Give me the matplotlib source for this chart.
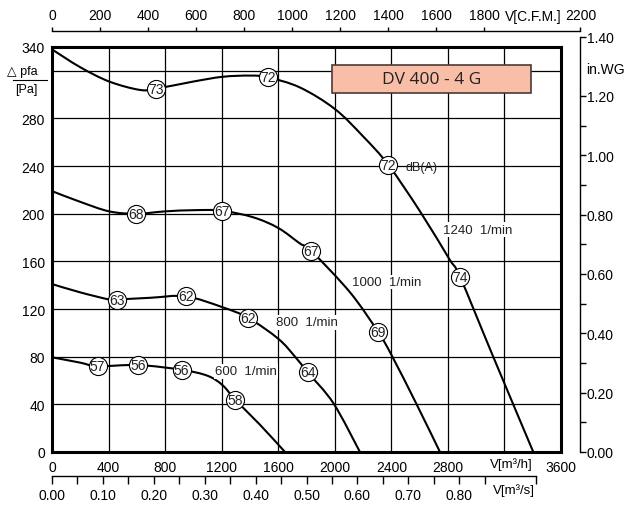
import matplotlib
matplotlib.use("Agg")
import matplotlib.pyplot as plt
from matplotlib.patches import Rectangle, PathPatch
from matplotlib.path import Path

plt.rcParams['font.family'] = ['Liberation Sans', 'DejaVu Sans']

# ---------------- data (V in m3/h, pressure in Pa) ----------------
x_1240 = [0, 200, 405, 620, 735, 1000, 1207, 1400, 1525, 1754, 2000, 2200, 2379, 2603, 2810, 2886, 3117, 3404]
y_1240 = [338, 323, 311, 304, 305, 311, 315, 316, 314.6, 306, 288, 265, 241, 202, 162, 147, 81, 0]

x_1000 = [0, 200, 405, 594, 800, 1000, 1200, 1424, 1601, 1754, 1832, 2108, 2308, 2403, 2579, 2744]
y_1000 = [219, 210, 202, 200, 202, 203, 202.6, 197, 188, 175, 169, 134, 100.5, 81, 40, 0]

x_800 = [0, 200, 405, 457, 700, 945, 1207, 1389, 1601, 1719, 1808, 1990, 2178]
y_800 = [141, 134, 128, 128, 129.5, 130.7, 121.5, 112.5, 95, 80, 67, 41, 0]

x_600 = [0, 200, 323, 610, 917, 1100, 1207, 1297, 1470, 1648]
y_600 = [79.5, 75, 72, 73, 69, 64, 56, 43.7, 23, 0]

# dB(A) markers
mx_1240 = [735, 1525, 2379, 2886]
my_1240 = [305, 314.6, 241, 146.6]
ml_1240 = ["73", "72", "72", "74"]
mx_1000 = [594, 1200, 1832, 2308]
my_1000 = [200, 202.6, 169, 100.5]
ml_1000 = ["68", "67", "67", "69"]
mx_800 = [457, 945, 1389, 1808]
my_800 = [128, 130.7, 112.5, 67]
ml_800 = ["63", "62", "62", "64"]
mx_600 = [323, 610, 917, 1297]
my_600 = [72, 73, 69, 43.7]
ml_600 = ["57", "56", "56", "58"]

speed_labels = ["1240  1/min", "1000  1/min", "800  1/min", "600  1/min"]
speed_lx = [2768, 2120, 1584, 1153]
speed_ly = [186.6, 142.7, 109, 67.8]

xticks_m3h = [0, 400, 800, 1200, 1600, 2000, 2400, 2800, 3600]
yticks_pa = [0, 40, 80, 120, 160, 200, 240, 280, 340]
cfm_ticks = [0, 200, 400, 600, 800, 1000, 1200, 1400, 1600, 1800, 2200]
inwg_ticks = [0.0, 0.1, 0.2, 0.3, 0.4, 0.5, 0.6, 0.7, 0.8, 0.9, 1.0, 1.1, 1.2, 1.4]
m3s_ticks = [0.0, 0.05, 0.1, 0.15, 0.2, 0.25, 0.3, 0.35, 0.4, 0.45, 0.5, 0.55, 0.6,
             0.65, 0.7, 0.75, 0.8, 0.85, 0.95]

title = "DV 400 - 4 G"

# ---------------- figure ----------------
W, H = 628, 506
fig = plt.figure(figsize=(W / 100, H / 100), dpi=100)


def fx(px):
    return px / W


def fy(py):
    return 1 - py / H


def smooth_path(xs, ys):
    """Cubic Bezier path through the read points (Catmull-Rom tangents)."""
    pts = list(zip(xs, ys))
    n = len(pts)
    verts = [pts[0]]
    codes = [Path.MOVETO]
    for i in range(n - 1):
        p0 = pts[i - 1] if i > 0 else pts[i]
        p1 = pts[i]
        p2 = pts[i + 1]
        p3 = pts[i + 2] if i + 2 < n else pts[i + 1]
        c1 = (p1[0] + (p2[0] - p0[0]) / 6.0, p1[1] + (p2[1] - p0[1]) / 6.0)
        c2 = (p2[0] - (p3[0] - p1[0]) / 6.0, p2[1] - (p3[1] - p1[1]) / 6.0)
        verts += [c1, c2, p2]
        codes += [Path.CURVE4, Path.CURVE4, Path.CURVE4]
    return Path(verts, codes)


PA_PER_PX = 340 / 405.0
ax = fig.add_axes([fx(52), fy(453), 509 / W, 405 / H])
ax.set_xlim(0, 3600)
ax.set_ylim(0, 340)

for gx in range(400, 3600, 400):
    ax.axvline(gx, color='black', lw=0.9, zorder=1)
for gy in range(40, 340, 40):
    ax.axhline(gy, color='black', lw=0.9, zorder=1)

for s in ax.spines.values():
    s.set_linewidth(2.2)
    s.set_zorder(5)

ax.set_xticks(xticks_m3h)
ax.set_xticklabels([str(v) for v in xticks_m3h])
ax.set_yticks(yticks_pa)
ax.set_yticklabels([str(v) for v in yticks_pa])
ax.tick_params(axis='both', length=0, labelsize=10)
ax.tick_params(axis='x', pad=6)
ax.tick_params(axis='y', pad=5)

curves = [(x_1240, y_1240), (x_1000, y_1000), (x_800, y_800), (x_600, y_600)]
for cx, cy in curves:
    ax.add_patch(PathPatch(smooth_path(cx, cy), facecolor='none', edgecolor='black',
                           lw=1.5, zorder=3, capstyle='butt'))

markers = [(mx_1240, my_1240, ml_1240), (mx_1000, my_1000, ml_1000),
           (mx_800, my_800, ml_800), (mx_600, my_600, ml_600)]
for mx, my, ml in markers:
    ax.scatter(mx, my, s=170, facecolor='white', edgecolor='black', linewidth=0.8, zorder=6)
    for xv, yv, lab in zip(mx, my, ml):
        ax.text(xv, yv, lab, ha='center', va='center', fontsize=10, zorder=7, color='#222222')

for lab, lx, ly in zip(speed_labels, speed_lx, speed_ly):
    ax.text(lx, ly, lab, ha='left', va='center', fontsize=9.5, zorder=4, color='#222222',
            bbox=dict(facecolor='white', edgecolor='none', pad=1.0))

ax.text(2497, 239, "dB(A)", ha='left', va='center', fontsize=9, zorder=4, color='#222222')

# title box
ax.add_patch(Rectangle((1977, 301.4), 1409, 23.6, facecolor='#F9BEA8', edgecolor='#4a3a34',
                       lw=1.2, zorder=4))
ax.text(2683, 313, title, ha='center', va='center', fontsize=12.5, zorder=5,
        family=['Open Sans', 'DejaVu Sans'], color='#222222')

# bottom extra label
fig.text(fx(511), fy(465), "V[m³/h]", ha='center', va='center', fontsize=9.5)

# y-axis label
fig.text(fx(22), fy(72), "△ pfa", ha='center', va='center', fontsize=9)
fig.add_artist(plt.Line2D([fx(12.5), fx(46.5)], [fy(80.5), fy(80.5)], color='black', lw=0.8))
fig.text(fx(26), fy(90), "[Pa]", ha='center', va='center', fontsize=9)

# ---------------- top CFM axis ----------------
cfm_to_m3h = 1.699011
top_w = 2200 * cfm_to_m3h * 509 / 3600
ax_t = fig.add_axes([fx(52), fy(32), top_w / W, 0.5 / H])
ax_t.set_xlim(0, 2200)
ax_t.set_ylim(0, 1)
for k, s in ax_t.spines.items():
    s.set_visible(k == 'top')
ax_t.spines['top'].set_linewidth(1.0)
ax_t.patch.set_visible(False)
ax_t.set_yticks([])
ax_t.xaxis.set_ticks_position('top')
ax_t.set_xticks(cfm_ticks)
ax_t.set_xticklabels([str(v) for v in cfm_ticks])
ax_t.tick_params(axis='x', direction='out', length=3.2, width=1.0, pad=3, labelsize=10)
fig.text(fx(533), fy(17), "V[C.F.M.]", ha='center', va='center', fontsize=10)

# ---------------- right in.WG axis ----------------
pa_per_inwg = 249.09
r_h = 1.40 * pa_per_inwg / PA_PER_PX
ax_r = fig.add_axes([fx(579), fy(453), 1 / W, r_h / H])
ax_r.set_ylim(0, 1.40)
for k, s in ax_r.spines.items():
    s.set_visible(k == 'right')
ax_r.spines['right'].set_linewidth(1.0)
ax_r.patch.set_visible(False)
ax_r.set_xticks([])
ax_r.yaxis.set_ticks_position('right')
ax_r.set_yticks(inwg_ticks)
ax_r.set_yticklabels([("%.2f" % v) if abs(round(v * 10) % 2) == 0 else "" for v in inwg_ticks])
ax_r.tick_params(axis='y', direction='out', length=4, width=1.0, pad=1, labelsize=10)
fig.text(fx(586), fy(70), "in.WG", ha='left', va='center', fontsize=10)

# ---------------- bottom m3/s axis ----------------
ax_s = fig.add_axes([fx(52), fy(477), 509 / W, 0.5 / H])
ax_s.set_xlim(0, 1.0)
ax_s.set_ylim(0, 1)
for k, s in ax_s.spines.items():
    s.set_visible(k == 'bottom')
ax_s.spines['bottom'].set_linewidth(1.0)
ax_s.spines['bottom'].set_bounds(0, 0.95)
ax_s.patch.set_visible(False)
ax_s.set_yticks([])
ax_s.set_xticks(m3s_ticks)
ax_s.set_xticklabels([("%.2f" % v) if (round(v * 100) % 10 == 0 and v <= 0.8) else "" for v in m3s_ticks])
ax_s.tick_params(axis='x', direction='out', length=5.5, width=1.0, pad=3, labelsize=10)
fig.text(fx(514), fy(491), "V[m³/s]", ha='center', va='center', fontsize=9.5)

fig.savefig("out.png", dpi=100)
